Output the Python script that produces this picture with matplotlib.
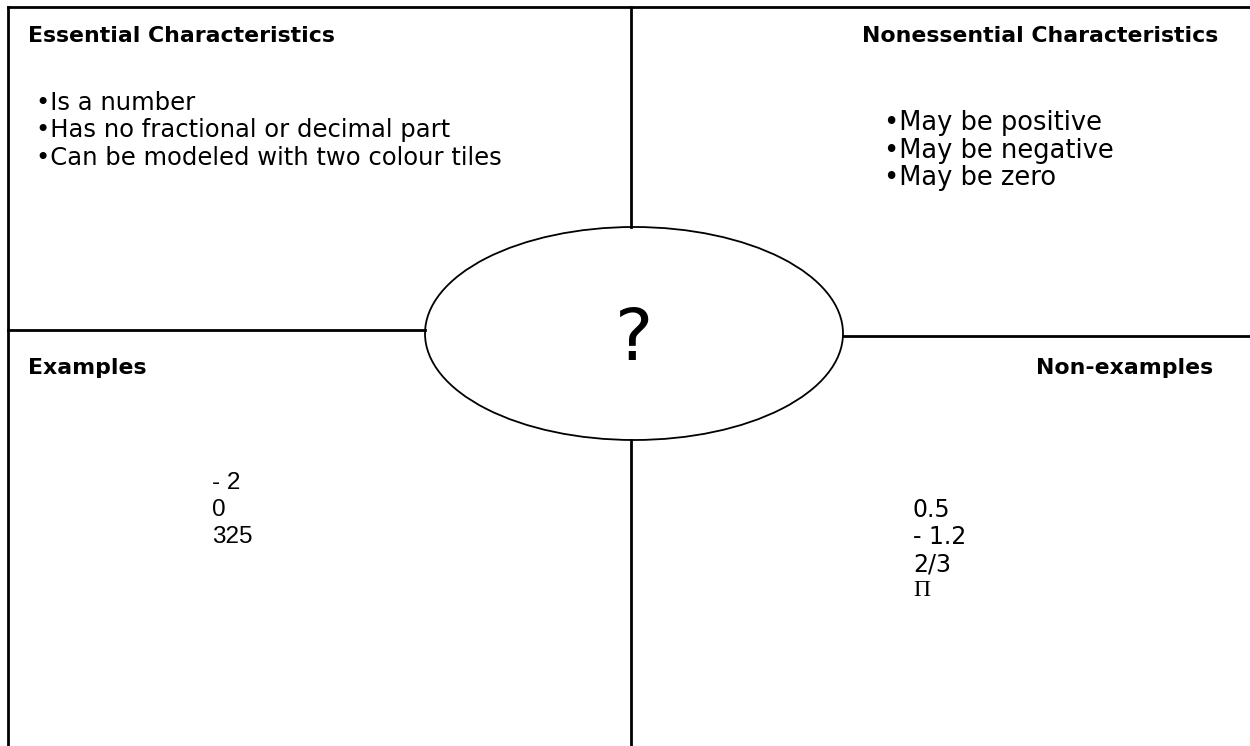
import matplotlib
matplotlib.use("Agg")
import matplotlib.pyplot as plt
from matplotlib.patches import Ellipse

# quadrant headings
headings = ["Essential Characteristics", "Nonessential Characteristics",
            "Examples", "Non-examples"]

essential = ["Is a number", "Has no fractional or decimal part",
             "Can be modeled with two colour tiles"]
nonessential = ["May be positive", "May be negative", "May be zero"]
examples = ["- 2", "0", "325"]
non_examples = ["0.5", "- 1.2", "2/3"]
pi_label = "\u03a0"
centre_word = "?"

W, H = 1250, 746
fig = plt.figure(figsize=(12.5, 7.46), dpi=100)
ax = fig.add_axes([0, 0, 1, 1])
ax.set_xlim(0, W)
ax.set_ylim(H, 0)
ax.axis("off")

lw = 2.0
# outer frame (top and left only)
ax.plot([8, W], [7, 7], color="black", lw=lw)
ax.plot([8, 8], [7, H], color="black", lw=lw)
# cross lines
ax.plot([631, 631], [7, 227], color="black", lw=lw)
ax.plot([631, 631], [440, H], color="black", lw=lw)
ax.plot([8, 425], [330, 330], color="black", lw=lw)
ax.plot([843, W], [336, 336], color="black", lw=lw)

ell = Ellipse((634, 333.5), 418, 213, facecolor="white", edgecolor="black", lw=1.3)
ax.add_patch(ell)
ax.text(634, 341, centre_word, fontsize=52, ha="center", va="center",
        family="DejaVu Sans")

head_kw = dict(fontsize=15.8, fontweight="bold", va="center", family="DejaVu Sans")
ax.text(28, 36, headings[0], ha="left", **head_kw)
ax.text(1218, 36, headings[1], ha="right", **head_kw)
ax.text(28, 368, headings[2], ha="left", **head_kw)
ax.text(1213, 368, headings[3], ha="right", **head_kw)

for i, s in enumerate(essential):
    ax.text(36, 103 + i * 27.5, "\u2022" + s, fontsize=17.5, va="center", ha="left",
            family="DejaVu Sans")
for i, s in enumerate(nonessential):
    ax.text(884, 123 + i * 27.5, "\u2022" + s, fontsize=18.5, va="center", ha="left",
            family="DejaVu Sans")

for i, s in enumerate(examples):
    ax.text(212, 483 + i * 27, s, fontsize=17.5, va="center", ha="left",
            family="Liberation Sans")
for i, s in enumerate(non_examples):
    ax.text(913, 510 + i * 27, s, fontsize=17, va="center", ha="left",
            family="DejaVu Sans")
ax.text(913, 591, pi_label, fontsize=17, va="center", ha="left",
        family="Liberation Serif")

fig.savefig("out.png", dpi=100)
